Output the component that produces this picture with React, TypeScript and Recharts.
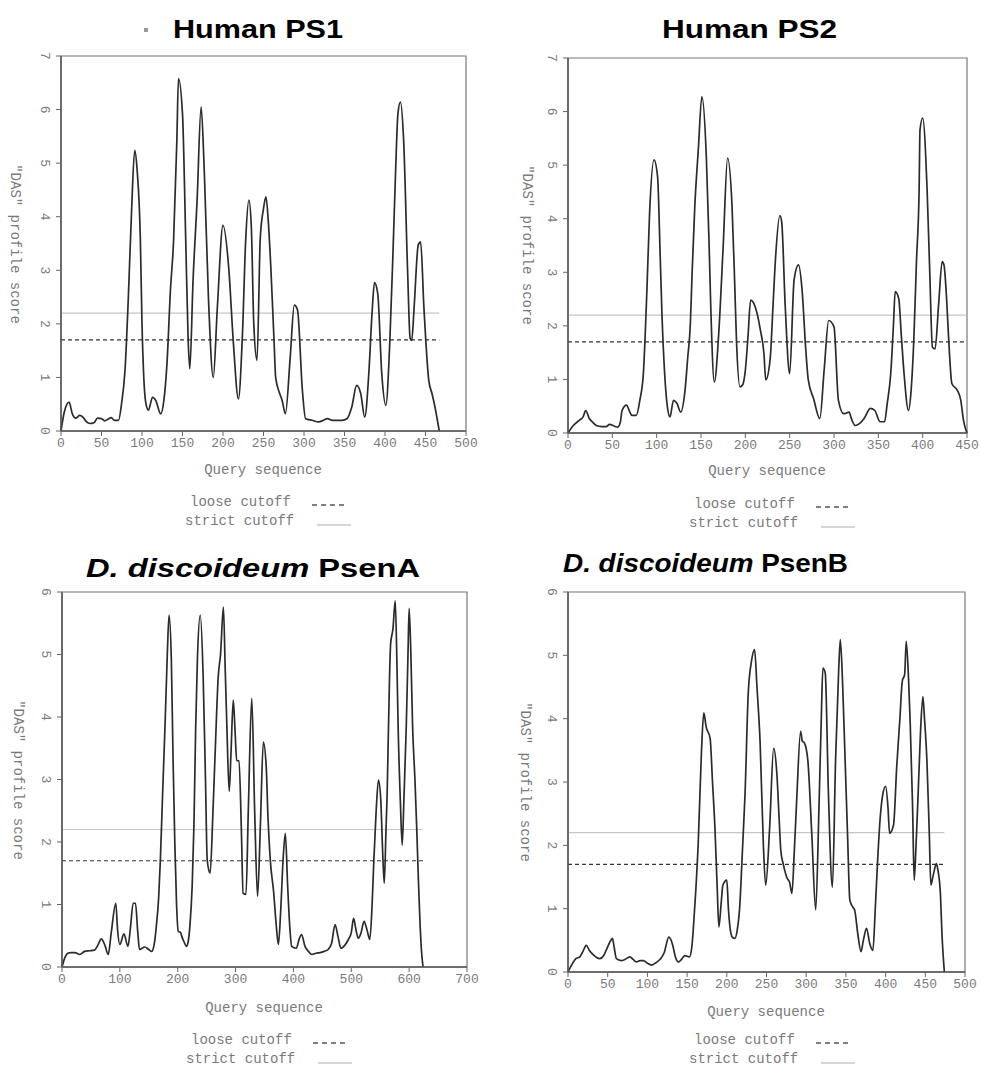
import React from 'react';
import { LineChart, Line, XAxis, YAxis, ReferenceLine, ReferenceArea } from 'recharts';

// ---------- data ----------
const ps1Pos = [0,4,10,14,18,23,27,31,36,41,45,50,54,58,62,66,71,75,79,83,87,91,94,98,100,102,105,108,113,117,123,127,131,135,139,143,145,150,154,157,159,163,168,173,177,182,188,193,200,207,213,219,224,228,232,235,238,242,246,250,253,256,259,263,265,270,273,277,283,288,292,298,302,310,318,324,329,335,341,347,353,359,365,370,375,380,384,387,391,396,401,406,410,413,416,419,423,428,431,433,436,441,444,448,454,458,461,464,467];
const ps1Score = [0,0.35,0.54,0.32,0.24,0.29,0.26,0.18,0.14,0.16,0.24,0.23,0.19,0.22,0.25,0.2,0.2,0.54,1.13,2.44,4.06,5.24,4.87,3.56,2.0,1.07,0.5,0.39,0.63,0.57,0.32,0.57,1.3,2.6,3.56,5.4,6.58,5.92,3.56,1.69,1.16,2.8,4.3,6.05,4.8,2.5,1.0,2.3,3.84,3.06,1.6,0.6,1.8,3.56,4.31,3.8,2.0,1.32,3.6,4.15,4.37,3.9,3.07,1.69,1.0,0.7,0.57,0.32,1.38,2.35,2.26,0.76,0.23,0.2,0.17,0.2,0.23,0.2,0.2,0.2,0.23,0.45,0.85,0.7,0.26,1.07,2.2,2.77,2.57,1.07,0.48,1.69,3.4,4.81,5.93,6.14,5.43,2.94,1.73,1.69,2.32,3.47,3.53,2.32,0.95,0.7,0.5,0.26,0];

const ps2Pos = [0,6,13,17,20,24,28,32,38,43,47,52,56,59,61,66,70,72,77,81,85,89,92,97,101,104,106,109,112,115,119,123,127,132,135,138,140,143,147,151,156,159,161,165,170,175,180,185,188,190,194,197,200,203,206,211,217,221,223,228,231,234,239,241,245,250,255,260,264,268,271,277,284,289,294,300,305,311,317,320,324,329,334,341,346,352,357,360,364,367,369,373,376,379,384,387,390,393,396,397,400,405,408,411,414,418,422,424,427,429,433,439,443,446,450];
const ps2Score = [0,0.14,0.24,0.3,0.42,0.27,0.2,0.14,0.12,0.12,0.16,0.13,0.11,0.2,0.42,0.52,0.38,0.33,0.33,0.61,1.11,2.67,4.1,5.1,4.79,3.29,2.2,1.11,0.5,0.3,0.61,0.55,0.39,0.8,1.4,2.04,3.0,4.23,5.3,6.28,5.16,3.6,2.36,0.95,1.86,3.48,5.13,4.23,2.8,1.73,0.86,0.9,1.17,1.8,2.48,2.36,1.92,1.48,0.99,1.38,2.3,3.25,4.06,3.94,2.36,1.11,2.86,3.14,2.67,1.6,0.99,0.64,0.27,1.2,2.1,1.98,0.61,0.36,0.39,0.25,0.14,0.18,0.27,0.46,0.42,0.21,0.21,0.55,1.11,2.0,2.64,2.51,1.8,1.11,0.42,0.8,1.73,3.2,4.54,5.66,5.88,4.54,3.0,1.6,1.57,2.4,3.2,3.14,2.5,1.86,0.92,0.8,0.61,0.24,0];

const psenAPos = [0,5,10,16,22,31,39,48,56,62,68,74,80,85,93,96,100,107,114,118,123,127,131,134,143,150,155,160,163,167,170,174,178,182,185,189,192,195,198,201,205,207,211,215,218,221,225,228,231,234,239,244,248,251,256,261,265,270,274,279,282,285,289,292,296,299,302,306,310,313,318,322,328,333,338,343,348,353,356,360,366,370,374,378,382,386,390,394,397,405,410,414,420,426,432,439,446,453,460,466,472,477,482,489,495,500,504,508,512,517,522,527,532,536,539,543,547,551,554,557,560,562,566,568,572,576,579,581,585,588,591,595,598,600,603,606,610,613,616,619,621,624];
const psenAScore = [0,0.15,0.22,0.23,0.23,0.2,0.25,0.26,0.27,0.35,0.45,0.35,0.2,0.54,1.02,0.6,0.36,0.53,0.33,0.6,1.02,1.02,0.55,0.28,0.32,0.28,0.25,0.4,0.65,1.1,1.71,2.8,3.84,5.0,5.63,4.91,3.3,1.98,1.0,0.57,0.55,0.49,0.4,0.33,0.4,0.65,1.3,2.25,3.8,4.91,5.63,4.64,3.0,1.71,1.5,2.51,3.5,4.64,5.0,5.76,4.8,3.84,2.81,3.4,4.27,3.8,3.3,3.3,2.2,1.18,1.16,2.5,4.3,2.5,1.13,2.3,3.6,3.2,2.4,1.71,1.18,0.7,0.36,0.9,1.7,2.14,1.3,0.6,0.33,0.3,0.45,0.52,0.33,0.25,0.2,0.22,0.23,0.25,0.28,0.38,0.68,0.49,0.3,0.35,0.44,0.55,0.78,0.6,0.46,0.55,0.73,0.6,0.44,1.0,1.71,2.5,2.99,2.67,1.9,1.34,2.2,2.78,4.6,5.17,5.41,5.86,4.8,3.84,2.6,1.95,2.7,3.84,5.0,5.74,5.0,3.84,3.0,2.25,1.4,0.65,0.3,0];

const psenBPos = [0,5,10,15,19,23,27,32,36,40,45,49,53,56,58,61,67,72,78,82,86,91,95,100,105,110,116,121,127,132,135,139,143,147,153,156,158,161,164,168,171,174,179,182,185,188,190,193,195,200,202,204,207,210,213,216,220,223,227,231,235,238,242,246,249,254,259,263,266,268,271,276,279,282,285,288,293,295,298,302,307,312,316,319,321,324,328,333,337,341,343,346,349,352,355,359,361,365,369,372,376,380,384,387,390,393,396,400,403,405,410,414,418,421,424,426,429,431,434,436,438,441,444,447,449,452,455,457,460,464,466,469,471,474];
const psenBScore = [0,0.12,0.21,0.24,0.33,0.42,0.34,0.27,0.23,0.21,0.26,0.37,0.48,0.53,0.4,0.21,0.18,0.2,0.24,0.2,0.16,0.18,0.18,0.14,0.11,0.14,0.2,0.3,0.55,0.42,0.25,0.16,0.2,0.26,0.24,0.4,0.71,1.3,2.03,3.45,4.09,3.87,3.69,3.0,2.29,1.3,0.71,1.1,1.37,1.45,1.0,0.71,0.55,0.53,0.65,0.98,2.0,2.82,4.4,4.9,5.09,4.5,3.61,2.03,1.37,2.29,3.53,3.14,2.4,1.92,1.71,1.48,1.42,1.24,1.9,2.71,3.8,3.65,3.61,3.35,2.19,0.98,2.56,4.0,4.8,4.72,2.82,1.34,3.35,4.8,5.25,4.5,3.35,2.2,1.13,1.02,0.98,0.6,0.32,0.5,0.69,0.45,0.34,1.0,1.77,2.4,2.77,2.93,2.6,2.19,2.32,3.24,4.0,4.59,4.7,5.22,4.6,3.93,2.6,1.45,1.9,2.82,3.8,4.35,4.0,3.35,2.2,1.37,1.53,1.71,1.6,1.24,0.6,0];

const xTicks500 = [0,50,100,150,200,250,300,350,400,450,500];
const xTicks450 = [0,50,100,150,200,250,300,350,400,450];
const xTicks700 = [0,100,200,300,400,500,600,700];
const yTicks7 = [0,1,2,3,4,5,6,7];
const yTicks6 = [0,1,2,3,4,5,6];

const STRICT_CUTOFF = 2.2;
const LOOSE_CUTOFF = 1.7;

const MONO = '"Liberation Mono", "DejaVu Sans Mono", monospace';
const SANS = '"Liberation Sans", Arial, sans-serif';
const GRAY = '#7a7a7a';

const PAD_L = 60, PAD_T = 15, PAD_R = 30, PAD_B = 30;

const YTick = (props: any) => {
  const { x, y, payload } = props;
  const cx = x - 10;
  return (
    <text x={cx} y={y} transform={`rotate(90 ${cx} ${y})`} textAnchor="middle" dominantBaseline="central"
      fontFamily={MONO} fontSize={13} fill={GRAY}>{payload.value}</text>
  );
};

type PanelProps = {
  pos: number[]; score: number[]; xMax: number; yMax: number; xTicks: number[]; yTicks: number[];
  seqEnd: number; x0: number; x1: number; y0: number; y1: number;
};

function Panel(p: PanelProps) {
  const data = p.pos.map((x, i) => ({ x, s: p.score[i] }));
  const w = p.x1 - p.x0 + PAD_L + PAD_R;
  const h = p.y1 - p.y0 + PAD_T + PAD_B;
  return (
    <div style={{ position: 'absolute', left: p.x0 - PAD_L, top: p.y0 - PAD_T }}>
      <LineChart width={w} height={h} data={data} margin={{ top: PAD_T, right: PAD_R, left: 0, bottom: 0 }}>
        <XAxis dataKey="x" type="number" domain={[0, p.xMax]} ticks={p.xTicks} height={PAD_B} interval={0}
          axisLine={{ stroke: '#555', strokeWidth: 1.5 }} tickLine={{ stroke: '#666' }} tickSize={5}
          tick={{ fontFamily: MONO, fontSize: 13, fill: GRAY }} />
        <YAxis type="number" domain={[0, p.yMax]} ticks={p.yTicks} width={PAD_L} interval={0}
          axisLine={{ stroke: '#555', strokeWidth: 1.5 }} tickLine={{ stroke: '#666' }} tickSize={5}
          tick={<YTick />} />
        <ReferenceArea x1={0} x2={p.xMax} y1={0} y2={p.yMax} fill="none" stroke="#777" strokeWidth={1.2} ifOverflow="visible" />
        <ReferenceLine segment={[{ x: 0, y: STRICT_CUTOFF }, { x: p.seqEnd, y: STRICT_CUTOFF }]} stroke="#c6c6c6" strokeWidth={1.2} />
        <ReferenceLine segment={[{ x: 0, y: LOOSE_CUTOFF }, { x: p.seqEnd, y: LOOSE_CUTOFF }]} stroke="#333" strokeWidth={1.2} strokeDasharray="4 3" />
        <Line dataKey="s" type="monotone" stroke="#2b2b2b" strokeWidth={1.7} dot={false} isAnimationActive={false} />
      </LineChart>
    </div>
  );
}

function Legend({ cx, y }: { cx: number; y: number }) {
  const lx = cx - 74;
  return (
    <g fontFamily={MONO} fontSize={14} fill={GRAY}>
      <text x={lx} y={y} dominantBaseline="central">loose cutoff</text>
      <line x1={lx + 122} x2={lx + 157} y1={y + 3} y2={y + 3} stroke="#555" strokeWidth={1.3} strokeDasharray="5 4" />
      <text x={lx - 5} y={y + 19} dominantBaseline="central">strict cutoff</text>
      <line x1={lx + 127} x2={lx + 161} y1={y + 23} y2={y + 23} stroke="#c8c8c8" strokeWidth={1.3} />
    </g>
  );
}

function AxisTitles({ cx, xy, yx, yy }: { cx: number; xy: number; yx: number; yy: number }) {
  return (
    <g fontFamily={MONO} fontSize={14} fill={GRAY}>
      <text x={cx} y={xy} textAnchor="middle" dominantBaseline="central">Query sequence</text>
      <text x={yx} y={yy} textAnchor="middle" dominantBaseline="central" transform={`rotate(90 ${yx} ${yy})`}>"DAS" profile score</text>
    </g>
  );
}

export default function App() {
  return (
    <div style={{ position: 'absolute', left: 0, top: 0, width: 981, height: 1067, background: '#fff', overflow: 'hidden' }}>
      <Panel pos={ps1Pos} score={ps1Score} xMax={500} yMax={7} xTicks={xTicks500} yTicks={yTicks7} seqEnd={467} x0={61} x1={466} y0={56} y1={431} />
      <Panel pos={ps2Pos} score={ps2Score} xMax={450} yMax={7} xTicks={xTicks450} yTicks={yTicks7} seqEnd={450} x0={568} x1={967} y0={58} y1={433} />
      <Panel pos={psenAPos} score={psenAScore} xMax={700} yMax={6} xTicks={xTicks700} yTicks={yTicks6} seqEnd={624} x0={62} x1={467} y0={592} y1={967} />
      <Panel pos={psenBPos} score={psenBScore} xMax={500} yMax={6} xTicks={xTicks500} yTicks={yTicks6} seqEnd={474} x0={568} x1={965} y0={592} y1={972} />
      <svg width={981} height={1067} style={{ position: 'absolute', left: 0, top: 0, pointerEvents: 'none' }}>
        <rect x={144} y={28} width={4} height={4} fill="#999" />
        <text x={173} y={38} fontFamily={SANS} fontWeight="bold" fontSize={25} textLength={170} lengthAdjust="spacingAndGlyphs">Human PS1</text>
        <text x={662} y={38} fontFamily={SANS} fontWeight="bold" fontSize={25} textLength={175} lengthAdjust="spacingAndGlyphs">Human PS2</text>
        <text x={86} y={577} fontFamily={SANS} fontWeight="bold" fontSize={25} textLength={334} lengthAdjust="spacingAndGlyphs">
          <tspan fontStyle="italic">D. discoideum</tspan><tspan> PsenA</tspan>
        </text>
        <text x={563} y={572} fontFamily={SANS} fontWeight="bold" fontSize={25} textLength={285} lengthAdjust="spacingAndGlyphs">
          <tspan fontStyle="italic">D. discoideum</tspan><tspan> PsenB</tspan>
        </text>
        <AxisTitles cx={263} xy={470} yx={15} yy={244} />
        <AxisTitles cx={767} xy={471} yx={527} yy={245} />
        <AxisTitles cx={264} xy={1008} yx={18} yy={780} />
        <AxisTitles cx={766} xy={1012} yx={525} yy={782} />
        <Legend cx={264} y={502} />
        <Legend cx={768} y={504} />
        <Legend cx={265} y={1040} />
        <Legend cx={768} y={1040} />
      </svg>
    </div>
  );
}
